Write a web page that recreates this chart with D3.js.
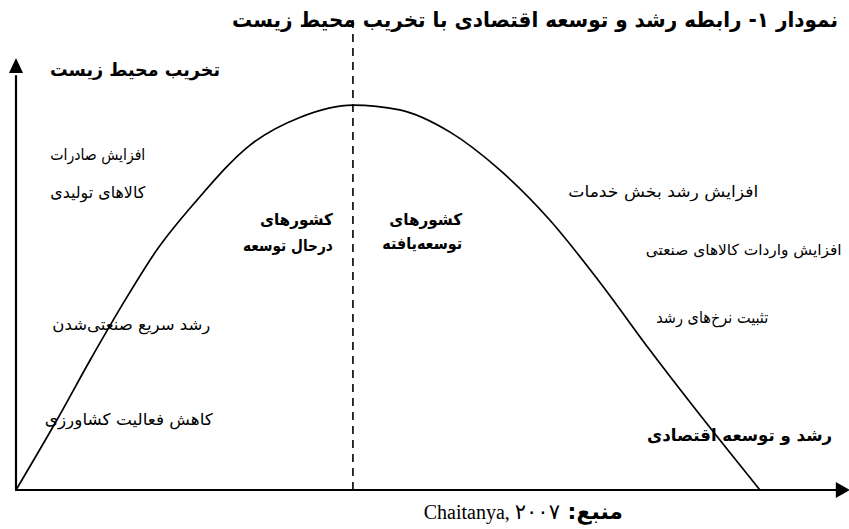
<!DOCTYPE html>
<html>
<head>
<meta charset="utf-8">
<script src="https://cdn.jsdelivr.net/npm/d3@7"></script>
<style>
  body { margin: 0; background: #fff; }
  svg text { fill: #000; font-family: "DejaVu Sans", sans-serif; }
</style>
</head>
<body>
<div class="container"></div>
<script>
// curve points: economic growth (x) vs environmental degradation (y), 0-100
const growth = [0, 4.9, 8.9, 13.1, 16.9, 21.7, 28.1, 34.1, 40.4, 46.0, 52.0, 58.0, 64.0, 70.0, 76.0, 82.0, 89.2]
const degradation = [0, 16.2, 30.1, 44.0, 55.6, 67.1, 79.9, 86.3, 89.1, 88.0, 82.9, 74.1, 62.5, 48.1, 32.4, 17.4, 0]
const turningPoint = 40.4

const title = "نمودار ۱- رابطه رشد و توسعه اقتصادی با تخریب محیط زیست"
const yLabel = "تخریب محیط زیست"
const xLabel = "رشد و توسعه اقتصادی"
const sourceAuthor = "Chaitanya, "
const sourceYear = "۲۰۰۷"

const leftNotes = ["افزایش صادرات", "کالاهای تولیدی", "رشد سریع صنعتی‌شدن", "کاهش فعالیت کشاورزی"]
const rightNotes = ["افزایش رشد بخش خدمات", "افزایش واردات کالاهای صنعتی", "تثبیت نرخ‌های رشد"]
const developing = ["کشورهای", "درحال توسعه"]
const developed = ["کشورهای", "توسعه‌یافته"]

// where the notes go: right edge (x), baseline (y) in chart units, width in px, font size
const leftPos = [[15.5, 76.4, 95, 16], [15.5, 67.6, 95, 16], [23.3, 37.0, 158, 16], [23.6, 15.0, 168, 16]]
const rightPos = [[89.0, 67.9, 190, 16], [99.0, 54.4, 196, 15], [90.2, 38.7, 112, 16]]

const w = 849
const h = 529

const xScale = d3.scaleLinear().domain([0, 100]).range([16, 850])
const yScale = d3.scaleLinear().domain([0, 100]).range([490, 58])

const svg = d3.select(".container")
.append("svg")
.attr("width", w)
.attr("height", h)

const addText = (str, x, y, len, size, bold) => {
  return svg.append("text")
  .attr("x", x)
  .attr("y", y)
  .attr("text-anchor", "end")
  .attr("textLength", len)
  .attr("lengthAdjust", "spacingAndGlyphs")
  .style("font-size", size + "px")
  .style("font-weight", bold ? "bold" : "normal")
  .text(str)
}

// axes with arrows
svg.append("line")
.attr("x1", xScale(0)).attr("y1", yScale(0))
.attr("x2", xScale(0)).attr("y2", yScale(96))
.attr("stroke", "#000").attr("stroke-width", 2.2)

svg.append("line")
.attr("x1", xScale(0) - 1).attr("y1", yScale(0))
.attr("x2", xScale(98.5)).attr("y2", yScale(0))
.attr("stroke", "#000").attr("stroke-width", 2.2)

svg.append("path")
.attr("d", `M${xScale(0)},${yScale(100)} L${xScale(0) - 7},${yScale(96.5)} L${xScale(0) + 7},${yScale(96.5)} Z`)
.attr("fill", "#000")

svg.append("path")
.attr("d", `M${xScale(100)},${yScale(0)} L${xScale(98.3)},${yScale(0) - 8} L${xScale(98.3)},${yScale(0) + 8} Z`)
.attr("fill", "#000")

// dashed turning point
svg.append("line")
.attr("x1", xScale(turningPoint)).attr("y1", yScale(0))
.attr("x2", xScale(turningPoint)).attr("y2", yScale(109.5))
.attr("stroke", "#000")
.attr("stroke-width", 1.6)
.attr("stroke-dasharray", "8,6")

// the curve
const line = d3.line()
.x((d, i) => xScale(growth[i]))
.y((d) => yScale(d))
.curve(d3.curveMonotoneX)

svg.append("path")
.datum(degradation)
.attr("d", line)
.attr("fill", "none")
.attr("stroke", "#000")
.attr("stroke-width", 1.7)

// texts
svg.append("text")
.attr("x", 838).attr("y", 27)
.attr("direction", "rtl")
.attr("text-anchor", "start")
.attr("textLength", 606)
.attr("lengthAdjust", "spacingAndGlyphs")
.style("font-size", "21px")
.style("font-weight", "bold")
.text(title)

addText(yLabel, 220, 76, 170, 18, true)
addText(xLabel, 832, 441, 185, 17, true)

leftNotes.forEach((t, i) => {
  const p = leftPos[i]
  addText(t, xScale(p[0]), yScale(p[1]), p[2], p[3], false)
})
rightNotes.forEach((t, i) => {
  const p = rightPos[i]
  addText(t, xScale(p[0]), yScale(p[1]), p[2], p[3], false)
})

developing.forEach((t, i) => {
  addText(t, xScale(38.0), 225 + i * 26, i === 0 ? 73 : 90, 16, true)
})
developed.forEach((t, i) => {
  addText(t, xScale(53.5), 225 + i * 24, i === 0 ? 73 : 80, 16, true)
})

// source line
const src = svg.append("text")
.attr("x", 623).attr("y", 519)
.attr("direction", "rtl")
.attr("text-anchor", "start")
.style("font-size", "20px")

src.append("tspan")
.style("font-weight", "bold")
.style("font-size", "22px")
.text("منبع: ")

src.append("tspan")
.style("font-family", "'Liberation Serif', serif")
.text(sourceAuthor)

src.append("tspan")
.style("font-size", "21px")
.text(sourceYear)
</script>
</body>
</html>
